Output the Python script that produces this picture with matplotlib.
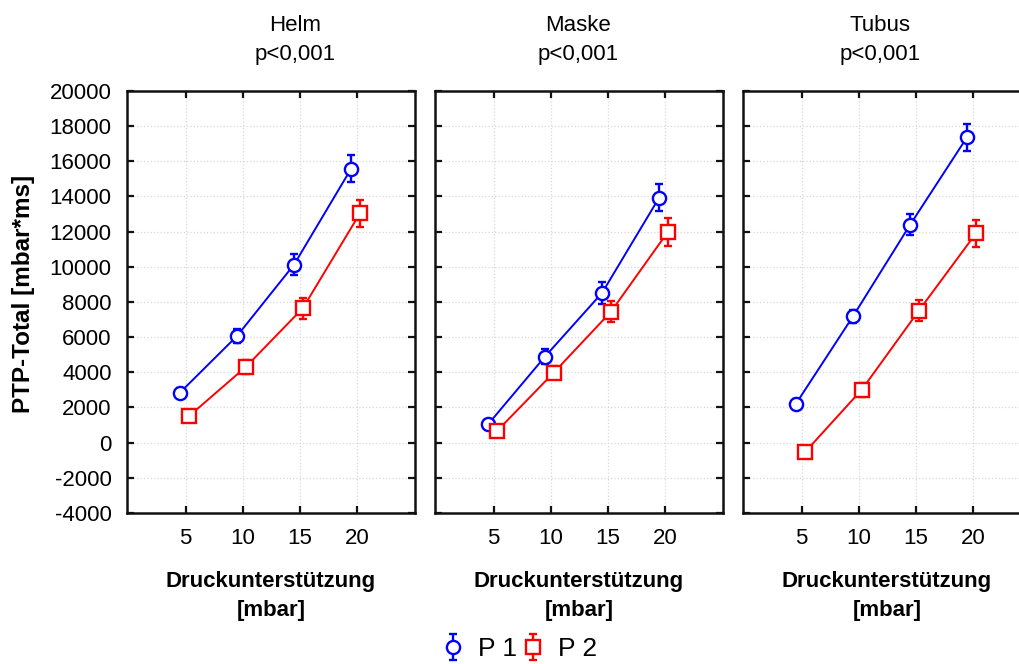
import numpy as np
import matplotlib
matplotlib.use("Agg")
import matplotlib.pyplot as plt

plt.rcParams['font.family'] = ['Liberation Sans', 'DejaVu Sans']
plt.rcParams['axes.unicode_minus'] = False

# Pressure support levels [mbar]
levels = [5, 10, 15, 20]
panels = ["Helm", "Maske", "Tubus"]
p_text = ["p<0,001", "p<0,001", "p<0,001"]

# Mean PTP-Total [mbar*ms] and error bar half-widths per interface
p1_mean = {
    "Helm":  [2850, 6070, 10130, 15580],
    "Maske": [1040, 4900, 8520, 13930],
    "Tubus": [2220, 7190, 12390, 17380],
}
p1_err = {
    "Helm":  [250, 380, 600, 770],
    "Maske": [250, 400, 620, 780],
    "Tubus": [280, 380, 600, 770],
}
p2_mean = {
    "Helm":  [1500, 4310, 7650, 13040],
    "Maske": [650, 3990, 7440, 11990],
    "Tubus": [-550, 3020, 7510, 11900],
}
p2_err = {
    "Helm":  [300, 380, 600, 780],
    "Maske": [260, 390, 600, 780],
    "Tubus": [260, 400, 600, 780],
}

series = [("P 1", p1_mean, p1_err, "#0000ff", "o", -0.5),
          ("P 2", p2_mean, p2_err, "#ff0000", "s", 0.27)]

yticks = list(range(-4000, 20001, 2000))
fs = 16

fig = plt.figure(figsize=(10.2, 6.64), dpi=100)
W, H = 1020.0, 664.0
lefts = [127, 435, 743]
title_x = [295, 578, 880]
ax_w, top, bottom = 288, 91, 513

handles = []
for k, name in enumerate(panels):
    ax = fig.add_axes([lefts[k] / W, 1 - bottom / H, ax_w / W, (bottom - top) / H])
    ax.set_xlim(-0.15, 25.1)
    ax.set_ylim(-4000, 20000)
    ax.set_xticks(levels)
    ax.set_yticks(yticks)
    ax.grid(True, color="#d8d8d8", linestyle=":", linewidth=0.9)
    ax.set_axisbelow(True)
    ax.tick_params(direction="in", length=5, width=1.6, top=True, right=True,
                   labelsize=fs, color="#111111")
    ax.tick_params(axis="x", pad=11)
    ax.tick_params(axis="y", pad=11)
    if k > 0:
        ax.tick_params(labelleft=False)
    for sp in ax.spines.values():
        sp.set_linewidth(1.8)
        sp.set_color("#111111")
    ax.set_title(f"{name}\n{p_text[k]}", fontsize=fs, pad=22, linespacing=1.5,
                 x=(title_x[k] - lefts[k]) / ax_w)
    ax.set_xlabel("Druckunterstützung\n[mbar]", fontsize=fs, fontweight="bold",
                  labelpad=16, linespacing=1.45)

    for label, means, errs, col, mk, off in series:
        xs = np.array(levels, float) + off
        ys = means[name]
        ax.plot(xs, ys, color=col, linewidth=1.4, zorder=3)
        eb = ax.errorbar(xs, ys, yerr=errs[name], fmt=mk, color=col, ecolor=col,
                         mfc="white", mec=col, ms=9.5,
                         mew=1.7, elinewidth=1.7, capsize=2.6, capthick=1.7,
                         zorder=4)
        if k == 0:
            handles.append((eb, label))

fig.text(24 / W, 1 - 294 / H, "PTP-Total [mbar*ms]", rotation=90, fontsize=17.5,
         fontweight="bold", ha="center", va="center")

leg = fig.legend([h for h, _ in handles], [l for _, l in handles],
                 loc="center", bbox_to_anchor=(517 / W, 1 - 649 / H), ncol=2,
                 frameon=False, fontsize=fs + 3, handlelength=1.2,
                 handletextpad=0.35, columnspacing=0.0)

fig.savefig("out.png", dpi=100)
